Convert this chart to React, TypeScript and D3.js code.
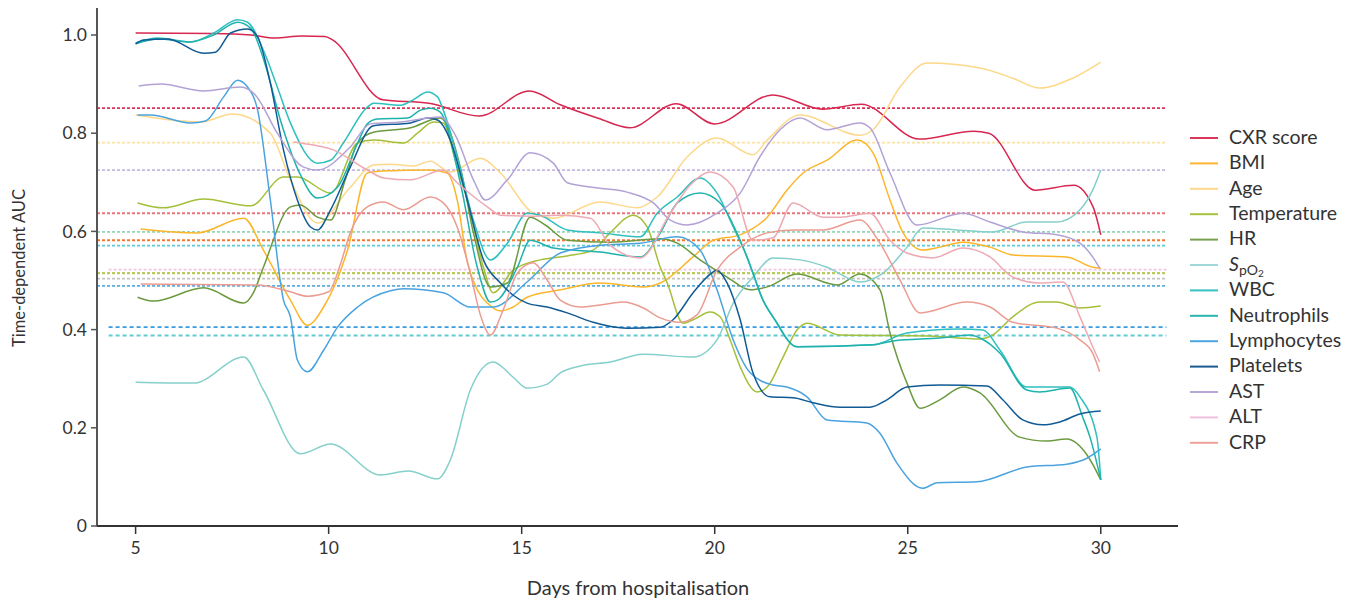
import * as d3 from "d3"

type Pt = [number, number]

const LABELS = ["CXR score", "BMI", "Age", "Temperature", "HR", "SpO2", "WBC", "Neutrophils", "Lymphocytes", "Platelets", "AST", "ALT", "CRP"]
const COLORS = ["#d7264f", "#fbb62a", "#fdd88a", "#a4c03a", "#6b9a3f", "#85d0cc", "#2fbfbf", "#1fb2ad", "#4aa3df", "#105b95", "#b3a2d6", "#eeaab4", "#eb9c92"]
const LEGEND_COLORS = ["#d9365a", "#f9b630", "#fcd88e", "#a6c23c", "#76a050", "#9fd8d8", "#33c1c1", "#2ab5b0", "#4ea6e0", "#1c5a92", "#b7a6d8", "#f0c0dc", "#f0a09a"]

const X_TICKS = [5, 10, 15, 20, 25, 30]
const Y_TICKS = [0, 0.2, 0.4, 0.6, 0.8, 1.0]

// dotted reference levels
const REF_VALUES = [0.851, 0.781, 0.725, 0.637, 0.599, 0.582, 0.571, 0.522, 0.515, 0.504, 0.489, 0.405, 0.388]
const REF_COLORS = ["#d6365a", "#fde19e", "#c5b8e2", "#e9767a", "#95d5b8", "#f4772f", "#5ecbd2", "#f2c6e0", "#b9cc5e", "#c4c4c4", "#5cade2", "#3a9be2", "#62cbd2"]
const REF_START = [4, 4, 4, 4, 4, 4, 4, 4.3, 4, 4, 4, 4.3, 4.3]

const cxr: Pt[] = [[5, 1.004], [7, 1.003], [8, 1.0], [8.6, 0.994], [9.3, 0.998], [9.9, 0.997], [10.1, 0.99], [11.4, 0.868], [12.6, 0.861], [13.9, 0.835], [15.2, 0.886], [16, 0.858], [17, 0.83], [17.8, 0.811], [19, 0.86], [20, 0.819], [21.5, 0.878], [22.8, 0.849], [23.8, 0.859], [25.3, 0.788], [26.7, 0.804], [27.1, 0.8], [28.3, 0.684], [29.3, 0.694], [29.8, 0.65], [30, 0.593]]
const bmi: Pt[] = [[5.13, 0.605], [6.6, 0.597], [7.8, 0.627], [8.31, 0.562], [9.01, 0.46], [9.45, 0.409], [9.87, 0.446], [10.49, 0.562], [11.0, 0.719], [11.42, 0.723], [12.63, 0.725], [13.07, 0.719], [13.33, 0.664], [13.59, 0.538], [13.85, 0.481], [14.11, 0.454], [14.45, 0.438], [14.78, 0.446], [15.14, 0.466], [16.0, 0.481], [17.03, 0.495], [18.15, 0.487], [18.59, 0.495], [19.44, 0.548], [19.96, 0.582], [20.66, 0.593], [21.36, 0.629], [21.87, 0.684], [22.29, 0.719], [22.91, 0.745], [23.69, 0.786], [24.1, 0.76], [24.54, 0.664], [24.88, 0.597], [25.39, 0.562], [25.83, 0.568], [26.43, 0.578], [27.13, 0.568], [27.72, 0.552], [29.12, 0.548], [29.79, 0.527], [30, 0.525]]
const age: Pt[] = [[5, 0.837], [6.68, 0.823], [7.51, 0.839], [8.49, 0.8], [9.01, 0.705], [9.71, 0.617], [10.56, 0.69], [11.16, 0.735], [11.6, 0.737], [12.19, 0.733], [12.63, 0.743], [13.15, 0.721], [13.93, 0.749], [14.45, 0.719], [15.3, 0.637], [15.82, 0.627], [17.03, 0.66], [17.99, 0.648], [18.51, 0.67], [19.29, 0.752], [20.06, 0.79], [20.99, 0.756], [21.36, 0.786], [22.21, 0.837], [23.76, 0.796], [24.1, 0.807], [24.8, 0.894], [25.5, 0.943], [26.87, 0.933], [27.72, 0.912], [28.42, 0.892], [29.27, 0.912], [30, 0.945]]
const temperature: Pt[] = [[5.05, 0.658], [5.72, 0.648], [6.76, 0.666], [7.98, 0.652], [8.83, 0.711], [9.19, 0.711], [10.05, 0.678], [10.75, 0.78], [11.16, 0.786], [11.94, 0.78], [12.3, 0.8], [12.71, 0.823], [12.97, 0.821], [13.28, 0.745], [13.59, 0.664], [14.01, 0.527], [14.26, 0.475], [14.78, 0.521], [15.48, 0.542], [16.18, 0.55], [16.85, 0.562], [17.29, 0.597], [17.89, 0.633], [18.25, 0.609], [18.59, 0.527], [18.77, 0.495], [19.18, 0.413], [19.44, 0.42], [19.88, 0.436], [20.14, 0.426], [20.4, 0.379], [20.66, 0.324], [21.1, 0.273], [21.36, 0.283], [21.77, 0.344], [22.13, 0.399], [22.39, 0.413], [23.25, 0.389], [25.57, 0.387], [26.87, 0.381], [27.2, 0.389], [27.72, 0.426], [28.42, 0.456], [28.86, 0.456], [29.46, 0.444], [30, 0.448]]
const hr: Pt[] = [[5.05, 0.466], [5.47, 0.458], [6.76, 0.485], [7.8, 0.454], [8.05, 0.475], [8.31, 0.527], [9.01, 0.65], [9.27, 0.654], [9.71, 0.629], [10.05, 0.623], [10.43, 0.705], [10.75, 0.78], [11.16, 0.802], [12.12, 0.811], [12.89, 0.831], [13.41, 0.731], [13.75, 0.597], [14.19, 0.487], [14.63, 0.495], [15.22, 0.629], [15.61, 0.613], [16.18, 0.582], [17.29, 0.578], [18.59, 0.585], [19.03, 0.576], [19.62, 0.542], [20.32, 0.507], [20.92, 0.481], [21.36, 0.487], [22.13, 0.513], [23.17, 0.491], [23.76, 0.513], [24.28, 0.481], [24.54, 0.393], [24.98, 0.291], [25.32, 0.24], [25.83, 0.257], [26.43, 0.283], [26.87, 0.271], [27.9, 0.181], [28.6, 0.173], [29.12, 0.177], [29.64, 0.145], [30, 0.094]]
const spo2: Pt[] = [[5, 0.293], [6.5, 0.291], [7.8, 0.344], [8.31, 0.277], [9.27, 0.147], [10.05, 0.167], [11.34, 0.104], [12.07, 0.112], [12.82, 0.096], [13.15, 0.134], [13.67, 0.277], [14.26, 0.334], [14.78, 0.303], [15.14, 0.281], [15.66, 0.289], [16, 0.312], [16.52, 0.326], [17.29, 0.334], [18.15, 0.35], [19.44, 0.344], [20.06, 0.379], [20.48, 0.454], [20.99, 0.507], [21.51, 0.546], [22.21, 0.542], [22.91, 0.527], [23.76, 0.497], [24.36, 0.515], [24.98, 0.568], [25.39, 0.607], [26.27, 0.603], [27.2, 0.599], [28.08, 0.619], [28.86, 0.619], [29.46, 0.644], [29.79, 0.684], [30, 0.725]]
const wbc: Pt[] = [[5, 0.984], [5.57, 0.994], [6.42, 0.986], [7.02, 1.004], [7.64, 1.031], [7.9, 1.026], [8.31, 0.969], [8.67, 0.894], [9.01, 0.821], [9.71, 0.739], [10.05, 0.745], [10.38, 0.78], [11, 0.853], [11.16, 0.861], [11.86, 0.857], [12.19, 0.868], [12.56, 0.884], [12.82, 0.874], [12.97, 0.847], [13.33, 0.752], [13.75, 0.623], [14.19, 0.542], [14.63, 0.576], [15.14, 0.637], [15.48, 0.633], [16.18, 0.603], [17.03, 0.597], [18.07, 0.589], [18.51, 0.637], [19.03, 0.67], [19.62, 0.709], [20.06, 0.678], [20.48, 0.609], [20.84, 0.548], [21.25, 0.46], [21.51, 0.426], [22.13, 0.365], [24.1, 0.369], [24.98, 0.393], [26.35, 0.401], [26.95, 0.399], [27.39, 0.358], [28.08, 0.283], [29.2, 0.283], [29.46, 0.263], [29.9, 0.181], [30, 0.094]]
const neutrophils: Pt[] = [[5, 0.982], [5.57, 0.992], [6.42, 0.986], [7.02, 1.0], [7.64, 1.026], [7.98, 1.014], [8.36, 0.939], [8.75, 0.827], [9.27, 0.715], [9.71, 0.668], [10.23, 0.69], [10.75, 0.78], [11, 0.819], [11.26, 0.829], [12.04, 0.831], [12.38, 0.847], [12.63, 0.851], [12.89, 0.843], [13.41, 0.699], [13.85, 0.527], [14.19, 0.456], [14.37, 0.46], [14.89, 0.527], [15.22, 0.582], [15.82, 0.566], [17.03, 0.558], [18.07, 0.548], [18.59, 0.597], [19.03, 0.658], [19.62, 0.678], [20.14, 0.658], [20.66, 0.582], [20.99, 0.515], [21.25, 0.46], [21.56, 0.42], [22.13, 0.365], [24.1, 0.369], [24.62, 0.377], [25.83, 0.383], [26.61, 0.389], [26.87, 0.383], [27.39, 0.352], [28.08, 0.277], [28.42, 0.273], [29.2, 0.281], [29.53, 0.222], [29.72, 0.181], [30, 0.094]]
const lymphocytes: Pt[] = [[5.05, 0.837], [5.39, 0.837], [6.42, 0.821], [6.81, 0.825], [7.28, 0.874], [7.64, 0.908], [7.9, 0.894], [8.16, 0.847], [8.49, 0.664], [8.83, 0.46], [9.01, 0.426], [9.19, 0.338], [9.45, 0.314], [9.87, 0.358], [10.23, 0.405], [10.75, 0.446], [11.6, 0.479], [11.94, 0.483], [12.97, 0.475], [13.67, 0.446], [14.26, 0.446], [15.14, 0.497], [16, 0.556], [17.03, 0.572], [18.07, 0.576], [19.03, 0.589], [19.62, 0.562], [20.06, 0.481], [20.48, 0.379], [20.92, 0.312], [21.51, 0.287], [21.87, 0.283], [22.39, 0.263], [22.91, 0.216], [23.94, 0.21], [24.28, 0.189], [24.72, 0.128], [25.39, 0.077], [25.76, 0.088], [26.79, 0.09], [28.08, 0.12], [29.12, 0.126], [29.64, 0.138], [30, 0.157]]
const platelets: Pt[] = [[5, 0.982], [5.21, 0.99], [5.83, 0.992], [6.76, 0.963], [7.07, 0.965], [7.46, 1.004], [7.9, 1.012], [8.16, 0.996], [8.49, 0.902], [8.83, 0.766], [9.19, 0.664], [9.53, 0.609], [9.71, 0.603], [10.05, 0.644], [10.56, 0.731], [11.16, 0.815], [12.12, 0.821], [12.56, 0.831], [12.82, 0.827], [13.15, 0.786], [13.59, 0.664], [14.01, 0.542], [14.45, 0.495], [14.78, 0.47], [15.14, 0.454], [15.66, 0.446], [16.18, 0.434], [16.85, 0.415], [17.73, 0.403], [18.59, 0.405], [18.92, 0.42], [19.44, 0.475], [19.8, 0.507], [20.06, 0.521], [20.32, 0.495], [20.66, 0.42], [20.99, 0.312], [21.43, 0.263], [22.03, 0.261], [22.55, 0.251], [23.25, 0.242], [24.02, 0.242], [24.46, 0.257], [24.98, 0.283], [25.83, 0.287], [27.05, 0.285], [27.46, 0.257], [27.98, 0.216], [28.5, 0.206], [28.94, 0.212], [29.46, 0.228], [30, 0.234]]
const ast: Pt[] = [[5.08, 0.896], [5.65, 0.9], [6.76, 0.886], [7.72, 0.894], [8.1, 0.878], [8.67, 0.8], [9.35, 0.731], [9.71, 0.725], [10.56, 0.772], [11.08, 0.819], [11.86, 0.823], [12.89, 0.833], [13.28, 0.796], [13.75, 0.705], [14.06, 0.664], [14.63, 0.705], [15.22, 0.76], [15.82, 0.739], [16.18, 0.699], [17.03, 0.688], [17.73, 0.68], [18.41, 0.658], [18.85, 0.623], [19.29, 0.613], [20.06, 0.637], [20.66, 0.678], [21.17, 0.752], [21.69, 0.807], [22.21, 0.831], [22.91, 0.807], [23.76, 0.821], [24.02, 0.811], [24.54, 0.719], [25.24, 0.613], [26.43, 0.637], [27.13, 0.619], [27.98, 0.599], [28.86, 0.593], [29.46, 0.576], [29.79, 0.548], [29.97, 0.525]]
const alt: Pt[] = [[9.09, 0.782], [9.27, 0.78], [10.12, 0.766], [11, 0.725], [11.42, 0.709], [12.12, 0.705], [12.97, 0.725], [13.33, 0.699], [14.11, 0.65], [14.45, 0.633], [15.3, 0.631], [16, 0.633], [16.78, 0.627], [17.29, 0.572], [18.07, 0.546], [18.85, 0.637], [19.36, 0.694], [19.88, 0.721], [20.48, 0.69], [20.99, 0.582], [21.51, 0.587], [22.03, 0.658], [22.81, 0.629], [23.25, 0.629], [24.02, 0.637], [24.54, 0.582], [24.98, 0.556], [25.65, 0.546], [26.43, 0.566], [27.13, 0.548], [27.72, 0.507], [28.42, 0.495], [29.02, 0.497], [29.46, 0.426], [29.79, 0.365], [29.97, 0.334]]
const crp: Pt[] = [[5.13, 0.493], [8.16, 0.491], [9.01, 0.477], [9.45, 0.468], [10, 0.477], [10.3, 0.532], [10.56, 0.597], [11, 0.65], [11.42, 0.66], [11.94, 0.644], [12.63, 0.67], [12.97, 0.658], [13.33, 0.609], [13.67, 0.515], [13.93, 0.43], [14.19, 0.389], [14.52, 0.44], [14.89, 0.515], [15.3, 0.536], [15.66, 0.501], [16, 0.46], [16.52, 0.446], [17.03, 0.45], [17.63, 0.456], [18.15, 0.444], [18.59, 0.424], [19.1, 0.415], [19.54, 0.43], [20.06, 0.521], [20.66, 0.568], [21.36, 0.597], [22.03, 0.603], [22.81, 0.603], [23.76, 0.623], [24.28, 0.576], [24.8, 0.501], [25.32, 0.434], [26.53, 0.456], [27.13, 0.446], [27.72, 0.415], [28.86, 0.403], [29.46, 0.379], [29.79, 0.352], [29.97, 0.314]]

const SERIES = [cxr, bmi, age, temperature, hr, spo2, wbc, neutrophils, lymphocytes, platelets, ast, alt, crp]

const FONT = "Lato, 'Open Sans', sans-serif"

export default function App() {
  const width = 1359
  const height = 601
  const x = d3.scaleLinear().domain([4, 32]).range([97, 1178])
  const y = d3.scaleLinear().domain([0, 1.055]).range([526, 8])
  const line = d3
    .line<Pt>()
    .x((d) => x(d[0]))
    .y((d) => y(d[1]))
    .curve(d3.curveMonotoneX)

  const legendX = 1190
  const legendY = 138
  const legendStep = 25.4

  return (
    <svg
      width={width}
      height={height}
      style={{ position: "absolute", left: 0, top: 0, background: "#fff" }}
      fontFamily={FONT}
    >
      {/* dotted reference lines */}
      {REF_VALUES.map((v, i) => (
        <line
          key={"ref" + i}
          x1={x(REF_START[i])}
          x2={x(31.7)}
          y1={y(v)}
          y2={y(v)}
          stroke={REF_COLORS[i]}
          strokeWidth={i === 8 ? 2.4 : 1.8}
          strokeDasharray={i === 11 || i === 12 ? "4 3" : "3 2"}
        />
      ))}

      {/* series */}
      {SERIES.map((s, i) => (
        <path key={LABELS[i]} d={line(s) ?? ""} fill="none" stroke={COLORS[i]} strokeWidth={1.5} />
      ))}

      {/* y axis */}
      <line x1={x(4)} x2={x(4)} y1={y(1.055)} y2={y(0)} stroke="#555" strokeWidth={2} />
      {Y_TICKS.map((t) => (
        <g key={"y" + t} transform={`translate(${x(4)},${y(t)})`}>
          <line x1={-6} x2={0} stroke="#555" strokeWidth={1.5} />
          <text x={-10} dy="0.35em" textAnchor="end" fontSize={17.5} fill="#333">
            {t === 0 ? "0" : t.toFixed(1)}
          </text>
        </g>
      ))}

      {/* x axis */}
      <line x1={x(4)} x2={x(32)} y1={y(0)} y2={y(0)} stroke="#333" strokeWidth={2} />
      {X_TICKS.map((t) => (
        <g key={"x" + t} transform={`translate(${x(t)},${y(0)})`}>
          <line y1={0} y2={8} stroke="#333" strokeWidth={1.5} />
          <text y={28} textAnchor="middle" fontSize={17.5} fill="#333">
            {t}
          </text>
        </g>
      ))}

      <text x={638} y={595} textAnchor="middle" fontSize={20} fill="#333">
        Days from hospitalisation
      </text>
      <text transform="translate(25,268) rotate(-90)" textAnchor="middle" fontSize={16.5} fill="#333">
        Time-dependent AUC
      </text>

      {/* legend */}
      {LABELS.map((label, i) => {
        const ly = legendY + i * legendStep
        return (
          <g key={"lg" + label} transform={`translate(${legendX},${ly})`}>
            <line x1={0} x2={28} y1={0} y2={0} stroke={LEGEND_COLORS[i]} strokeWidth={2} />
            <text x={39} dy="0.3em" fontSize={19.5} fill="#333">
              {label === "SpO2" ? (
                <>
                  <tspan fontStyle="italic">S</tspan>
                  <tspan dy={4} fontSize={14}>pO</tspan>
                  <tspan dy={2} fontSize={10}>2</tspan>
                </>
              ) : (
                label
              )}
            </text>
          </g>
        )
      })}
    </svg>
  )
}
